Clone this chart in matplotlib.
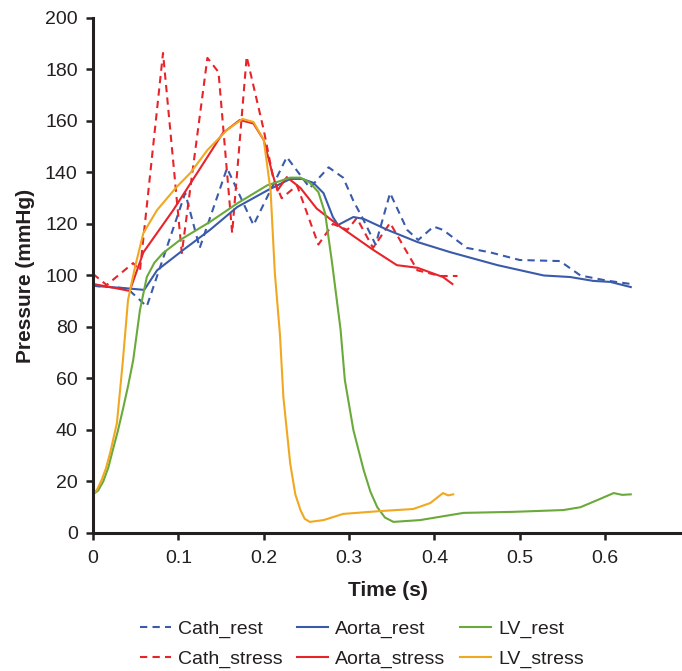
import matplotlib
matplotlib.use("Agg")
import matplotlib.pyplot as plt

plt.rcParams['font.family'] = ['Liberation Sans', 'DejaVu Sans']

# values (time in s, pressure in mmHg)
cath_rest_t = [0.0, 0.04, 0.063, 0.108, 0.125, 0.157, 0.188, 0.227, 0.254, 0.276, 0.293,
               0.305, 0.317, 0.331, 0.348, 0.368, 0.381, 0.399, 0.41, 0.438, 0.465, 0.5,
               0.547, 0.571, 0.602, 0.63]
cath_rest_p = [96, 95, 88, 132, 110.7, 141.7, 119.6, 146, 134, 142, 138,
               129, 121.5, 112, 132, 117.7, 113.8, 119, 117.7, 110.7, 109, 106,
               105.6, 100, 98, 96.7]

aorta_rest_t = [0.0, 0.04, 0.06, 0.075, 0.106, 0.137, 0.169, 0.204, 0.231, 0.245, 0.258,
                0.27, 0.281, 0.287, 0.305, 0.317, 0.345, 0.38, 0.419, 0.474, 0.528,
                0.559, 0.586, 0.606, 0.63]
aorta_rest_p = [96, 95, 94.4, 102, 110, 117.7, 126.6, 133, 137.5, 137.5, 136,
                132, 122.7, 119.6, 122.7, 122, 117.7, 113, 109, 104, 100,
                99.4, 97.9, 97.5, 95.5]

lv_rest_t = [0.0, 0.006, 0.012, 0.018, 0.023, 0.029, 0.035, 0.041, 0.047, 0.055, 0.063,
             0.072, 0.082, 0.102, 0.137, 0.169, 0.204, 0.231, 0.243, 0.254, 0.264,
             0.272, 0.28, 0.29, 0.295, 0.305, 0.317, 0.325, 0.333, 0.342, 0.352,
             0.365, 0.383, 0.434, 0.492, 0.551, 0.571, 0.591, 0.61, 0.62, 0.63]
lv_rest_p = [15, 16.5, 20, 25.5, 32, 39.5, 48, 57, 67, 86.6, 99.4,
             105, 108.7, 113.8, 120.8, 128, 135, 138, 138, 136, 132.4,
             124, 105, 79, 59.4, 40, 24.5, 16, 10, 6, 4.3,
             4.6, 5, 7.8, 8.2, 8.9, 10, 12.8, 15.5, 14.8, 15]

cath_stress_t = [0.0, 0.016, 0.047, 0.055, 0.082, 0.104, 0.134, 0.147, 0.163, 0.18, 0.2,
                 0.211, 0.221, 0.239, 0.264, 0.281, 0.298, 0.309, 0.328, 0.348, 0.38,
                 0.407, 0.427]
cath_stress_p = [100.6, 96.3, 104.8, 102, 186.4, 108.7, 184.5, 179, 116.5, 185, 156.5,
                 138, 130, 135, 112, 120, 117.7, 122.3, 110.7, 120.4, 102,
                 99.8, 99.8]

aorta_stress_t = [0.0, 0.02, 0.043, 0.059, 0.094, 0.122, 0.152, 0.172, 0.188, 0.2, 0.21,
                  0.216, 0.227, 0.243, 0.262, 0.29, 0.328, 0.356, 0.38, 0.41, 0.421]
aorta_stress_p = [96.7, 95.5, 94, 109, 125.4, 139.8, 155.3, 160.4, 159, 152.6, 139.8,
                  133, 138.2, 134, 126, 118.8, 110, 104, 103, 99.4, 96.7]

lv_stress_t = [0.0, 0.005, 0.01, 0.015, 0.02, 0.028, 0.035, 0.041, 0.049, 0.059, 0.075,
               0.098, 0.114, 0.134, 0.157, 0.175, 0.188, 0.2, 0.208, 0.213, 0.219,
               0.223, 0.231, 0.237, 0.243, 0.248, 0.254, 0.27, 0.293, 0.336, 0.375,
               0.395, 0.41, 0.416, 0.422]
lv_stress_p = [15, 17, 20.5, 25, 31, 42.7, 67, 90.5, 103, 116.5, 125.4,
               134.4, 139.8, 148.7, 156.5, 160.8, 159.6, 152.6, 133, 101, 77,
               52.8, 27, 15, 8.9, 5.5, 4.3, 5, 7.4, 8.5, 9.3,
               11.6, 15.5, 14.6, 15]

blue = '#3a5ba9'
red = '#e8242b'
green = '#6aaa3a'
orange = '#f0a820'

fig = plt.figure(figsize=(6.82, 6.71), dpi=100)
ax = fig.add_axes([0.1364, 0.2057, 0.8636, 0.7675])

lw = 1.5
dash = (0, (3.5, 2.5))
h1, = ax.plot(cath_rest_t, cath_rest_p, color=blue, lw=lw, ls=dash, label='Cath_rest')
h4, = ax.plot(cath_stress_t, cath_stress_p, color=red, lw=lw, ls=dash, label='Cath_stress')
h2, = ax.plot(aorta_rest_t, aorta_rest_p, color=blue, lw=lw, label='Aorta_rest')
h5, = ax.plot(aorta_stress_t, aorta_stress_p, color=red, lw=lw, label='Aorta_stress')
h3, = ax.plot(lv_rest_t, lv_rest_p, color=green, lw=lw, label='LV_rest')
h6, = ax.plot(lv_stress_t, lv_stress_p, color=orange, lw=lw, label='LV_stress')

ax.set_xlim(0, 0.69)
ax.set_ylim(0, 200)
ax.set_xticks([0, 0.1, 0.2, 0.3, 0.4, 0.5, 0.6])
ax.set_xticklabels(['0', '0.1', '0.2', '0.3', '0.4', '0.5', '0.6'])
ax.set_yticks(range(0, 201, 20))
ax.tick_params(labelsize=14, width=1.8, length=5, color='#231f20', labelcolor='#231f20')
ax.tick_params(axis='x', pad=7)
ax.tick_params(axis='y', pad=6)
for s in ['top', 'right']:
    ax.spines[s].set_visible(False)
for s in ['left', 'bottom']:
    ax.spines[s].set_linewidth(2.2)
    ax.spines[s].set_color('#231f20')

ax.set_xlabel('Time (s)', fontsize=15, fontweight='bold', labelpad=10, color='#231f20')
ax.set_ylabel('Pressure (mmHg)', fontsize=15, fontweight='bold', labelpad=7, color='#231f20')

fig.legend(handles=[h1, h4, h2, h5, h3, h6], ncol=3, loc='upper left',
           bbox_to_anchor=(0.205, 0.076), frameon=False, fontsize=14,
           handlelength=1.6, handletextpad=0.36, columnspacing=0.75,
           labelspacing=0.65, borderpad=0, borderaxespad=0,
           labelcolor='#231f20')

fig.savefig('out.png', dpi=100)
